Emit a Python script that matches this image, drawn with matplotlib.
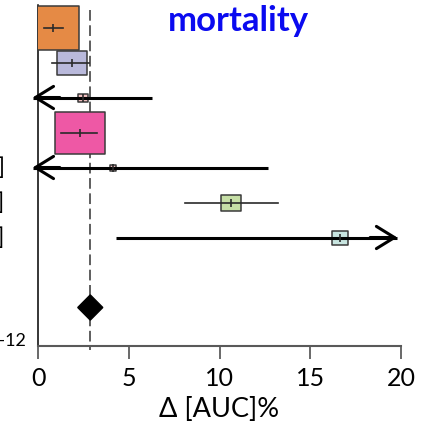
import matplotlib
matplotlib.use("Agg")
import matplotlib.pyplot as plt
from matplotlib.path import Path
from matplotlib.transforms import blended_transform_factory

plt.rcParams["font.family"] = ["Lato", "DejaVu Sans"]

# Study-level effects (difference in AUC, %)
estimates = [0.83, 1.88, 2.49, 2.32, 4.14, 10.66, 16.63]
ci_low = [0.33, 0.77, -1.60, 1.27, -4.40, 8.12, 4.31]
ci_high = [1.38, 2.82, 6.30, 3.26, 12.65, 13.20, 29.00]
weights = [39.1, 13.0, 1.4, 36.2, 0.7, 5.8, 3.7]
box_colors = ["#E58A45", "#B9B9DB", "#F3C2C2", "#EE58A5", "#F3C2C2", "#C6DFA6", "#C8E5E0"]
ci_labels = ["", "", "", "", "4.1 [-4.4, 12.7]", "10.7 [8.1, 13.2]", "16.6 [4.3, 29.0]"]

# Pooled effect
pooled = 2.88
pooled_low, pooled_high = 2.19, 3.57
pooled_p = "p = 4.2e-12"

xticks = [0, 5, 10, 15, 20]
title = "mortality"
xlabel = "Δ [AUC]%"

W, H = 441, 423
fig = plt.figure(figsize=(W / 100, H / 100), dpi=100)
ax = fig.add_axes([38 / W, 77 / H, 363 / W, 341 / H])
ax.set_xlim(0, 20)
ax.set_ylim(10.1, 0.357)

clip_lo, clip_hi = -0.3, 19.8
rows = list(range(1, len(estimates) + 1))
pooled_row = len(estimates) + 2

# rectangle marker (wider than tall)
box = Path([(-0.5, -0.415), (0.5, -0.415), (0.5, 0.415), (-0.5, 0.415), (-0.5, -0.415)],
           [Path.MOVETO, Path.LINETO, Path.LINETO, Path.LINETO, Path.CLOSEPOLY])

arrow_kw = dict(arrowstyle="->,head_length=1.3,head_width=0.8", lw=2.2, color="black",
                shrinkA=0, shrinkB=0)

for y, est, lo, hi, w, col in zip(rows, estimates, ci_low, ci_high, weights, box_colors):
    size_pt = 83.1 * (w / 100) ** 0.5 * 0.72
    ax.plot([est], [y], marker=box, markersize=size_pt, markerfacecolor=col,
            markeredgecolor="#3a3a3a", markeredgewidth=1.1, linestyle="none", zorder=3)
    truncated = lo < 0 or hi > 20
    if truncated:
        lo_c = max(lo, clip_lo)
        hi_c = min(hi, clip_hi)
        ax.plot([lo_c, hi_c], [y, y], color="black", lw=2.2, zorder=4,
                clip_on=False, solid_capstyle="butt")
        if lo < 0:
            ax.annotate("", xy=(lo_c, y), xytext=(lo_c + 1.5, y),
                        arrowprops=arrow_kw, annotation_clip=False, zorder=4)
        if hi > 20:
            ax.annotate("", xy=(hi_c, y), xytext=(hi_c - 1.5, y),
                        arrowprops=arrow_kw, annotation_clip=False, zorder=4)
    else:
        ax.plot([lo, hi], [y, y], color="#2a2a2a", lw=1.2, zorder=4)
    ax.plot([est], [y], marker="|", markersize=6, markeredgewidth=1.2,
            color="#2a2a2a", linestyle="none", zorder=5)

# pooled diamond
half_h = 0.36
ax.fill([pooled_low, pooled, pooled_high, pooled],
        [pooled_row, pooled_row - half_h, pooled_row, pooled_row + half_h],
        color="black", zorder=4)

# reference line at the pooled estimate
ax.plot([pooled, pooled], [0.5, 10.21], color="#333333", lw=1.1,
        dashes=(7, 3), clip_on=False, zorder=2)

for spine in ("top", "right"):
    ax.spines[spine].set_visible(False)
ax.spines["left"].set_color("black")
ax.spines["left"].set_linewidth(1.1)
ax.spines["bottom"].set_color("#595959")
ax.spines["bottom"].set_linewidth(1.5)
ax.set_yticks([])
ax.set_xticks(xticks)
ax.set_xticklabels([str(t) for t in xticks])
ax.tick_params(axis="x", direction="out", length=9.5, width=1.1, color="#404040",
               labelsize=18, pad=5.5)
ax.set_xlabel(xlabel, fontsize=19.5, labelpad=5)

# confidence-interval text column, right-aligned at the figure's left edge
label_tr = blended_transform_factory(fig.transFigure, ax.transData)
for y, lab in zip(rows, ci_labels):
    if lab:
        fig.text(4.5 / W, y, lab, transform=label_tr, fontsize=17,
                 ha="right", va="center")

fig.text(25.5 / W, 82 / H, pooled_p, fontsize=13, ha="right", va="center")

fig.text(238 / W, 1 - 21 / H, title, fontsize=25, fontweight="bold",
         color="#0A0AF0", ha="center", va="center")

fig.savefig("out.png", dpi=100)
